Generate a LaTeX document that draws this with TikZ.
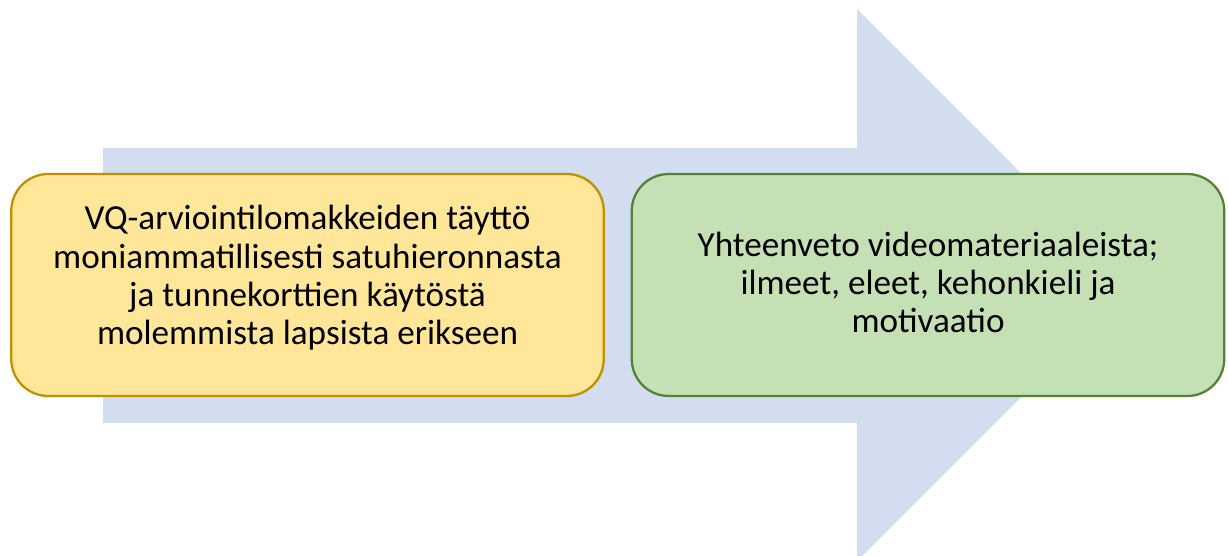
\documentclass[tikz,border=0pt]{standalone}
\usepackage{fontspec}
\setmainfont{Carlito}
\usepackage{tikz}
\definecolor{LBlue}{RGB}{210,222,239}
\definecolor{LYellow}{RGB}{255,230,153}
\definecolor{DYellow}{RGB}{191,144,0}
\definecolor{LGreen}{RGB}{197,224,180}
\definecolor{DGreen}{RGB}{84,130,53}
\tikzset{phase/.style={rounded corners=0.74cm, line width=1.3pt, minimum width=11.85cm, minimum height=4.44cm, inner sep=0pt},
phasetext/.style={align=center, font=\fontsize{20}{21.8}\selectfont, inner sep=0pt}}

\begin{document}
\begin{tikzpicture}
\useasboundingbox (0,0) rectangle (24.56,11.12);
\clip (0,0) rectangle (24.56,11.12);
\fill[LBlue] (2.06,2.66) -- (17.14,2.66) -- (17.14,-0.1) -- (22.66,5.42) -- (17.14,10.94) -- (17.14,8.16) -- (2.06,8.16) -- cycle;

\node[phase, draw=DYellow, fill=LYellow] (survey) at (6.15,5.42) {};
\node[phasetext] (surveytext) at ([yshift=0.14cm]survey.center) {VQ-arviointilomakkeiden täyttö\\moniammatillisesti satuhieronnasta\\ja tunnekorttien käytöstä\\molemmista lapsista erikseen};

\node[phase, draw=DGreen, fill=LGreen] (summary) at (18.56,5.42) {};
\node[phasetext] (summarytext) at ([yshift=0.05cm]summary.center) {Yhteenveto videomateriaaleista;\\ilmeet, eleet, kehonkieli ja\\motivaatio};

\end{tikzpicture}
\end{document}
